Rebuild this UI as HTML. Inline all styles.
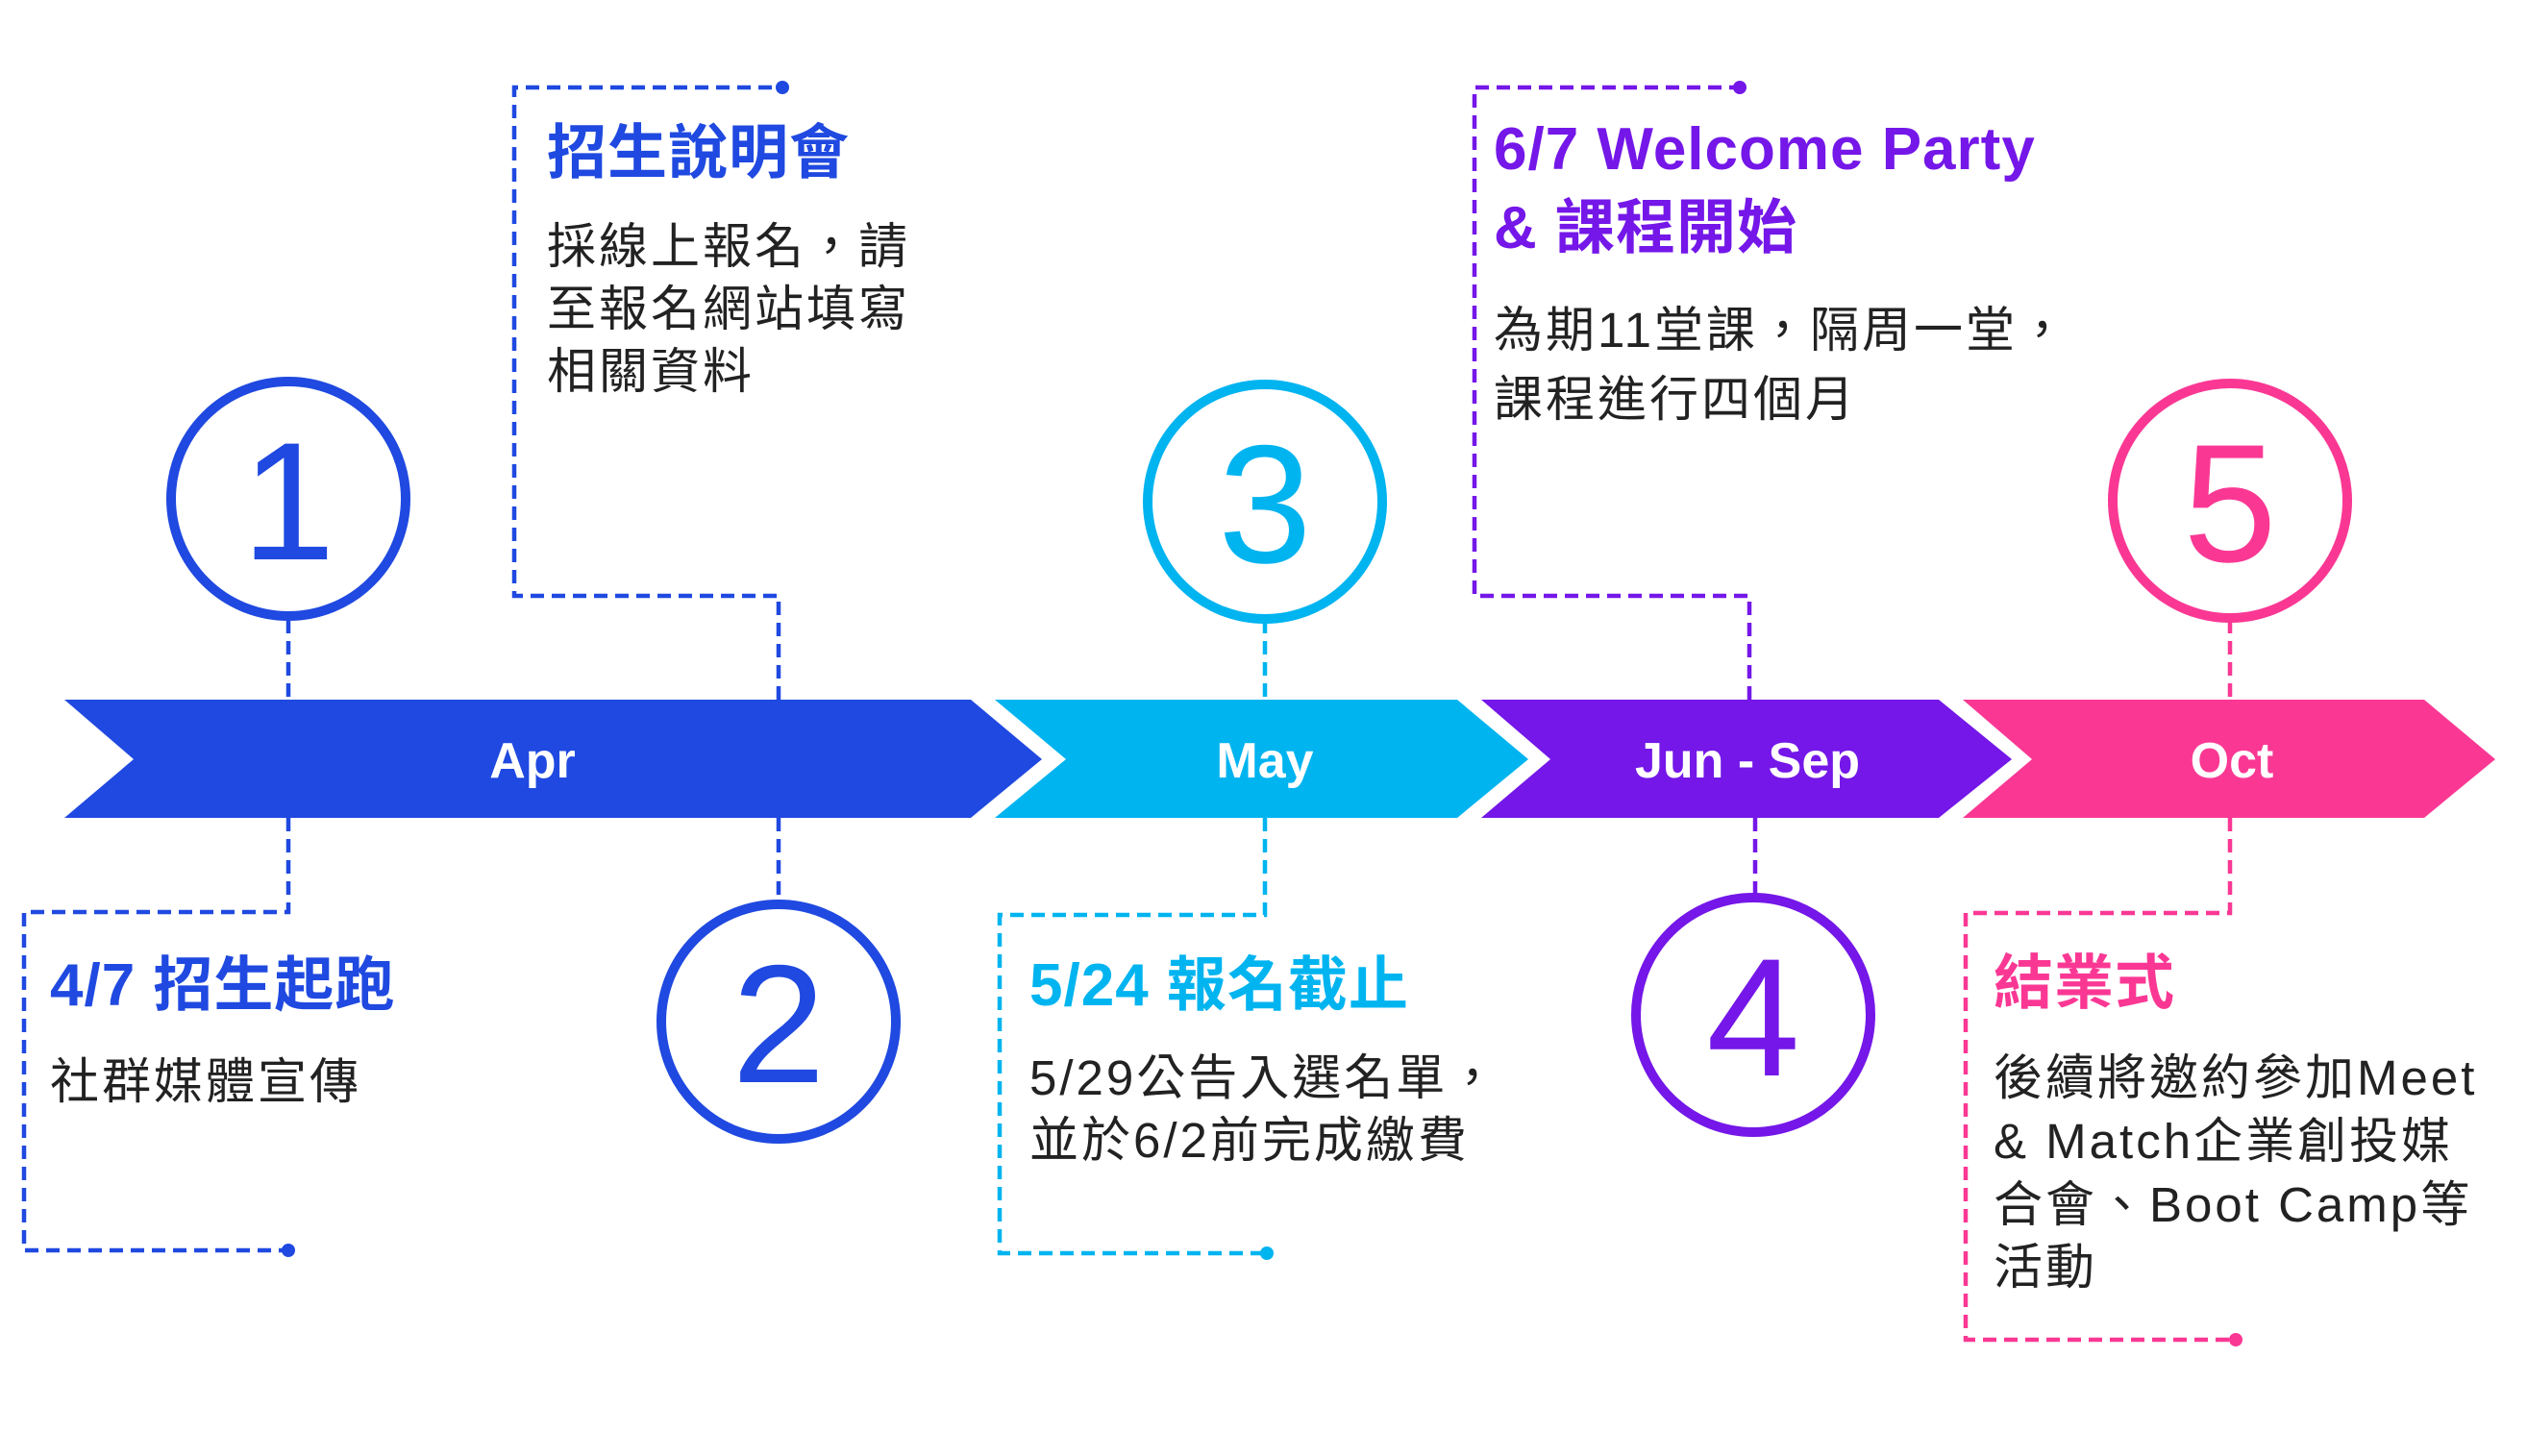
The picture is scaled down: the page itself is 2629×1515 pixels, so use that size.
<!DOCTYPE html>
<html><head><meta charset="utf-8"><style>
html,body{margin:0;padding:0;background:#fff}
svg{display:block}
text{font-family:"Liberation Sans","Noto Sans CJK TC",sans-serif}
.t{font-weight:bold;font-size:62px;letter-spacing:1px}
.b{font-size:51px;fill:#222;letter-spacing:3px}
.n{font-size:175px;text-anchor:middle}
.l{font-weight:bold;font-size:52px;fill:#fff;text-anchor:middle}
.d{fill:none;stroke-width:4.5;stroke-dasharray:14 8}
</style></head><body>
<svg width="2629" height="1515" viewBox="0 0 2629 1515" xmlns="http://www.w3.org/2000/svg">
<polygon points="67,728 1010,728 1084,790 1010,851 67,851 139,790" fill="#1f49e0"/>
<polygon points="1035,728 1516,728 1590,790 1516,851 1035,851 1109,790" fill="#00b4f0"/>
<polygon points="1541,728 2017,728 2093,790 2017,851 1541,851 1613,790" fill="#7417e8"/>
<polygon points="2042,728 2522,728 2596,790 2522,851 2042,851 2114,790" fill="#fa3894"/>
<text class="l" x="554" y="809">Apr</text>
<text class="l" x="1316" y="809">May</text>
<text class="l" x="1818" y="809">Jun - Sep</text>
<text class="l" x="2322" y="809">Oct</text>

<g stroke="#1f49e0">
<path class="d" d="M300,645 V728"/>
<path class="d" d="M300,851 V949 H25 V1301 H300"/>
<path class="d" d="M810,728 V620 H535 V91 H812"/>
<path class="d" d="M810,851 V942"/>
</g>
<circle cx="300" cy="1301" r="7" fill="#1f49e0"/>
<circle cx="814" cy="91" r="7" fill="#1f49e0"/>
<g stroke="#00b4f0">
<path class="d" d="M1316,645 V728"/>
<path class="d" d="M1316,851 V952 H1040 V1304 H1316"/>
</g>
<circle cx="1318" cy="1304" r="7" fill="#00b4f0"/>
<g stroke="#7417e8">
<path class="d" d="M1820,728 V620 H1534 V91 H1807"/>
<path class="d" d="M1826,851 V930"/>
</g>
<circle cx="1810" cy="91" r="7" fill="#7417e8"/>
<g stroke="#fa3894">
<path class="d" d="M2320,645 V728"/>
<path class="d" d="M2320,851 V950 H2045 V1394 H2324"/>
</g>
<circle cx="2326" cy="1394" r="7" fill="#fa3894"/>

<circle cx="300" cy="519" r="122" fill="#fff" stroke="#1f49e0" stroke-width="10"/>
<text class="n" x="300" y="582" fill="#1f49e0">1</text>
<circle cx="810" cy="1063" r="122" fill="#fff" stroke="#1f49e0" stroke-width="10"/>
<text class="n" x="810" y="1126" fill="#1f49e0">2</text>
<circle cx="1316" cy="522" r="122" fill="#fff" stroke="#00b4f0" stroke-width="10"/>
<text class="n" x="1316" y="585" fill="#00b4f0">3</text>
<circle cx="1824" cy="1056" r="122" fill="#fff" stroke="#7417e8" stroke-width="10"/>
<text class="n" x="1824" y="1119" fill="#7417e8">4</text>
<circle cx="2320" cy="521" r="122" fill="#fff" stroke="#fa3894" stroke-width="10"/>
<text class="n" x="2320" y="584" fill="#fa3894">5</text>

<text class="t" x="52" y="1046" fill="#1f49e0">4/7 招生起跑</text>
<text class="b" x="52" y="1143">社群媒體宣傳</text>

<text class="t" x="569" y="180" fill="#1f49e0">招生說明會</text>
<text class="b" x="569" y="274">採線上報名，請</text>
<text class="b" x="569" y="339">至報名網站填寫</text>
<text class="b" x="569" y="404">相關資料</text>

<text class="t" x="1071" y="1046" fill="#00b4f0">5/24 報名截止</text>
<text class="b" x="1071" y="1139">5/29公告入選名單，</text>
<text class="b" x="1071" y="1204">並於6/2前完成繳費</text>

<text class="t" x="1554" y="176" fill="#7417e8">6/7 Welcome Party</text>
<text class="t" x="1554" y="258" fill="#7417e8">&amp; 課程開始</text>
<text class="b" x="1554" y="361">為期11堂課，隔周一堂，</text>
<text class="b" x="1554" y="433">課程進行四個月</text>

<text class="t" x="2074" y="1044" fill="#fa3894">結業式</text>
<text class="b" x="2074" y="1139">後續將邀約參加Meet</text>
<text class="b" x="2074" y="1205">&amp; Match企業創投媒</text>
<text class="b" x="2074" y="1271">合會、Boot Camp等</text>
<text class="b" x="2074" y="1336">活動</text>
</svg>
</body></html>
